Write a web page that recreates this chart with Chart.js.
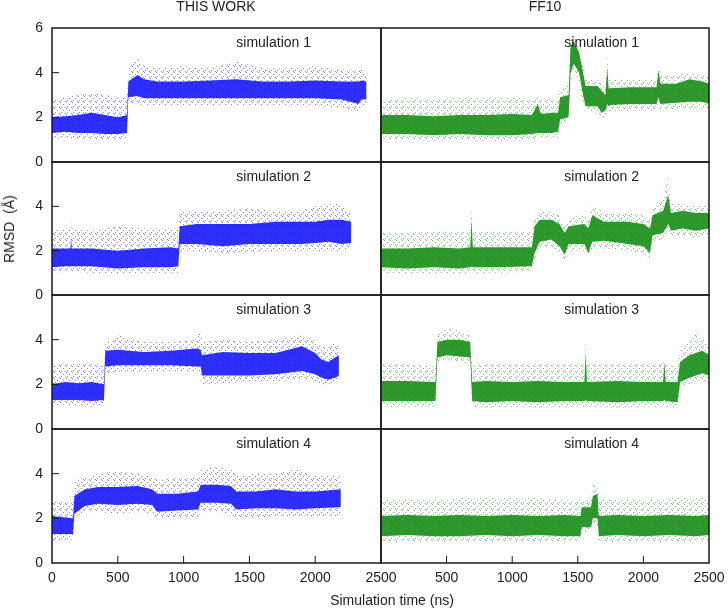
<!DOCTYPE html>
<html>
<head>
<meta charset="utf-8">
<script src="https://cdn.jsdelivr.net/npm/chart.js@4.4.1/dist/chart.umd.min.js"></script>
<style>
    body { margin: 0; background: #ffffff; font-family: 'Liberation Sans', Arial, Helvetica, sans-serif; color: #222; }
    #quadro { position: relative; width: 728px; height: 609px; overflow: hidden; }
    #quadro canvas { position: absolute; left: 0; top: 0; }
    .texto { position: absolute; font-size: 14px; line-height: 14px; white-space: nowrap; transform: translate(-50%, -50%); }
</style>
</head>
<body>
<div id="quadro">
    <canvas id="painel0" width="728" height="609"></canvas>
    <canvas id="painel1" width="728" height="609"></canvas>
    <canvas id="painel2" width="728" height="609"></canvas>
    <canvas id="painel3" width="728" height="609"></canvas>
    <canvas id="painel4" width="728" height="609"></canvas>
    <canvas id="painel5" width="728" height="609"></canvas>
    <canvas id="painel6" width="728" height="609"></canvas>
    <canvas id="painel7" width="728" height="609"></canvas>
    <div class="texto" style="left:216px; top:6px;">THIS WORK</div>
    <div class="texto" style="left:545px; top:6px;">FF10</div>
    <div class="texto" style="left:392px; top:600px;">Simulation time (ns)</div>
    <div class="texto" style="left:9px; top:229px; transform: translate(-50%, -50%) rotate(-90deg);">RMSD&nbsp;&nbsp;(Å)</div>
</div>
<script>
// ---- dados (RMSD em Å, tempo em ns) ----
// faixa densa = baixo..alto, pontos esparsos = min..max

// THIS WORK, simulation 1
const tempoA1 = [0, 100, 200, 300, 400, 500, 570, 580, 650, 700, 800, 1000, 1200, 1400, 1600, 1800, 2000, 2200, 2330, 2350, 2390];
const baixoA1 = [1.3, 1.35, 1.3, 1.3, 1.25, 1.25, 1.3, 2.9, 2.95, 2.85, 2.85, 2.85, 2.85, 2.85, 2.85, 2.85, 2.85, 2.8, 2.6, 2.8, 2.8];
const altoA1  = [2.0, 2.05, 2.1, 2.2, 2.1, 2.0, 2.1, 3.6, 3.9, 3.7, 3.6, 3.6, 3.65, 3.7, 3.6, 3.6, 3.65, 3.6, 3.6, 3.65, 3.6];
const minA1   = [1.1, 1.1, 1.05, 1.05, 1.0, 1.0, 1.1, 2.6, 2.6, 2.55, 2.55, 2.5, 2.55, 2.5, 2.55, 2.5, 2.5, 2.45, 2.2, 2.5, 2.6];
const maxA1   = [2.8, 2.9, 3.0, 3.1, 3.0, 2.9, 2.9, 4.2, 4.6, 4.3, 4.2, 4.3, 4.2, 4.5, 4.2, 4.2, 4.3, 4.1, 4.1, 4.2, 4.0];

// THIS WORK, simulation 2
const tempoA2 = [0, 100, 140, 145, 150, 300, 500, 700, 900, 960, 970, 1100, 1300, 1500, 1700, 1900, 2000, 2100, 2200, 2275];
const baixoA2 = [1.25, 1.3, 1.3, 1.3, 1.3, 1.3, 1.2, 1.25, 1.25, 1.3, 2.3, 2.3, 2.2, 2.3, 2.3, 2.3, 2.35, 2.4, 2.3, 2.35];
const altoA2  = [2.1, 2.1, 2.1, 2.6, 2.1, 2.1, 2.0, 2.1, 2.15, 2.1, 3.1, 3.2, 3.2, 3.2, 3.3, 3.3, 3.3, 3.4, 3.4, 3.3];
const minA2   = [1.0, 1.05, 1.05, 1.05, 1.05, 1.0, 0.95, 1.0, 1.0, 1.0, 2.0, 2.0, 1.9, 1.95, 2.0, 2.0, 2.0, 2.0, 2.0, 2.1];
const maxA2   = [2.9, 3.0, 3.0, 3.6, 3.0, 2.9, 3.1, 3.0, 3.0, 3.0, 3.8, 3.8, 3.8, 3.9, 3.8, 3.8, 4.0, 4.1, 4.1, 3.6];

// THIS WORK, simulation 3
const tempoA3 = [0, 100, 200, 300, 395, 405, 500, 700, 900, 1100, 1130, 1140, 1300, 1500, 1700, 1900, 2000, 2050, 2100, 2150, 2180];
const baixoA3 = [1.3, 1.3, 1.3, 1.25, 1.3, 2.8, 2.85, 2.85, 2.85, 2.8, 2.8, 2.4, 2.4, 2.4, 2.45, 2.6, 2.45, 2.3, 2.2, 2.3, 2.4];
const altoA3  = [2.0, 2.1, 2.05, 2.1, 2.0, 3.5, 3.55, 3.45, 3.5, 3.6, 3.55, 3.3, 3.45, 3.4, 3.4, 3.7, 3.4, 3.1, 3.0, 3.2, 3.3];
const minA3   = [1.05, 1.1, 1.05, 1.0, 1.1, 2.5, 2.55, 2.6, 2.6, 2.6, 2.5, 2.0, 2.05, 2.1, 2.1, 2.3, 2.1, 2.0, 2.0, 2.1, 2.3];
const maxA3   = [2.8, 3.0, 2.9, 3.0, 2.8, 3.8, 4.2, 3.9, 3.9, 4.0, 4.6, 3.9, 4.0, 3.9, 4.0, 4.2, 4.0, 3.7, 3.6, 3.9, 3.8];

// THIS WORK, simulation 4
const tempoA4 = [0, 160, 170, 250, 350, 500, 650, 760, 800, 950, 1110, 1130, 1250, 1360, 1400, 1550, 1700, 1850, 2000, 2195];
const baixoA4 = [1.3, 1.3, 2.2, 2.55, 2.65, 2.6, 2.65, 2.6, 2.3, 2.35, 2.4, 2.7, 2.7, 2.65, 2.4, 2.45, 2.45, 2.4, 2.45, 2.5];
const altoA4  = [2.1, 2.0, 3.0, 3.3, 3.4, 3.4, 3.45, 3.3, 3.1, 3.1, 3.2, 3.5, 3.5, 3.45, 3.2, 3.2, 3.3, 3.2, 3.2, 3.3];
const minA4   = [1.0, 1.05, 2.0, 2.3, 2.3, 2.2, 2.3, 2.2, 2.05, 2.0, 2.0, 2.3, 2.3, 2.2, 2.0, 2.0, 2.1, 2.1, 2.1, 2.1];
const maxA4   = [2.8, 2.7, 3.7, 3.8, 4.0, 4.1, 4.0, 3.9, 3.7, 3.8, 3.8, 4.2, 4.3, 4.2, 3.9, 4.0, 4.0, 4.2, 3.9, 3.9];

// FF10, simulation 1
const tempoB1 = [0, 200, 400, 600, 800, 1000, 1150, 1195, 1215, 1235, 1300, 1350, 1365, 1430, 1445, 1470, 1510, 1540, 1560, 1650, 1680, 1710, 1725, 1735, 1750, 1900, 2100, 2115, 2130, 2250, 2350, 2450, 2500];
const baixoB1 = [1.25, 1.25, 1.2, 1.25, 1.2, 1.2, 1.25, 1.3, 1.3, 1.3, 1.3, 1.35, 1.9, 2.0, 4.0, 4.4, 4.0, 3.0, 2.5, 2.5, 2.2, 2.3, 2.6, 2.5, 2.55, 2.6, 2.6, 2.9, 2.6, 2.65, 2.7, 2.7, 2.6];
const altoB1  = [2.1, 2.1, 2.05, 2.1, 2.1, 2.15, 2.1, 2.6, 2.2, 2.15, 2.2, 2.2, 2.9, 3.0, 5.2, 5.4, 4.9, 4.0, 3.4, 3.4, 3.2, 3.0, 4.2, 3.3, 3.3, 3.35, 3.35, 4.1, 3.5, 3.5, 3.7, 3.6, 3.5];
const minB1   = [1.0, 1.0, 0.95, 1.0, 0.95, 0.95, 1.0, 1.1, 1.1, 1.1, 1.1, 1.1, 1.7, 1.8, 3.8, 4.0, 3.6, 2.6, 2.3, 2.2, 2.0, 2.0, 2.3, 2.3, 2.3, 2.3, 2.3, 2.6, 2.3, 2.4, 2.4, 2.4, 2.4];
const maxB1   = [2.7, 2.9, 2.8, 2.9, 2.9, 2.9, 2.8, 2.9, 2.8, 2.8, 2.8, 2.8, 3.2, 3.5, 5.6, 5.7, 5.2, 4.3, 3.7, 3.7, 3.5, 3.3, 4.9, 3.7, 3.7, 3.7, 3.7, 4.5, 3.9, 3.9, 4.0, 3.9, 3.8];

// FF10, simulation 2
const tempoB2 = [0, 200, 400, 600, 680, 690, 700, 900, 1150, 1170, 1210, 1300, 1360, 1400, 1430, 1550, 1580, 1610, 1700, 1880, 2000, 2050, 2070, 2150, 2190, 2210, 2300, 2400, 2500];
const baixoB2 = [1.25, 1.2, 1.25, 1.2, 1.25, 1.3, 1.25, 1.25, 1.3, 1.9, 2.4, 2.5, 2.2, 1.8, 2.3, 2.3, 1.9, 2.4, 2.45, 2.3, 2.2, 1.9, 2.7, 2.8, 3.2, 2.9, 3.0, 2.9, 3.0];
const altoB2  = [2.1, 2.1, 2.15, 2.1, 2.15, 3.4, 2.15, 2.15, 2.15, 3.1, 3.4, 3.4, 3.2, 2.8, 3.1, 3.2, 3.0, 3.6, 3.3, 3.3, 3.2, 3.0, 3.6, 3.8, 4.5, 3.7, 3.8, 3.7, 3.7];
const minB2   = [1.0, 0.95, 1.0, 0.95, 1.0, 1.1, 1.0, 1.0, 1.05, 1.6, 2.1, 2.2, 1.9, 1.6, 2.0, 2.0, 1.7, 2.1, 2.1, 2.0, 1.9, 1.6, 2.4, 2.5, 2.9, 2.6, 2.7, 2.6, 2.7];
const maxB2   = [2.8, 2.8, 2.9, 2.9, 2.9, 4.0, 2.9, 2.9, 2.9, 3.4, 3.8, 3.8, 3.6, 3.2, 3.5, 3.6, 3.3, 4.1, 3.7, 3.7, 3.6, 3.4, 4.0, 4.3, 5.5, 4.1, 4.1, 4.0, 4.1];

// FF10, simulation 3
const tempoB3 = [0, 200, 415, 430, 500, 600, 680, 695, 800, 1000, 1200, 1400, 1550, 1560, 1570, 1800, 2000, 2150, 2160, 2170, 2260, 2280, 2350, 2400, 2450, 2500];
const baixoB3 = [1.25, 1.25, 1.25, 3.2, 3.3, 3.25, 3.2, 1.25, 1.2, 1.25, 1.2, 1.25, 1.25, 1.3, 1.25, 1.2, 1.25, 1.25, 1.3, 1.25, 1.2, 2.1, 2.3, 2.4, 2.5, 2.4];
const altoB3  = [2.15, 2.15, 2.1, 3.9, 4.0, 4.0, 3.9, 2.1, 2.15, 2.1, 2.15, 2.1, 2.1, 3.4, 2.1, 2.15, 2.1, 2.1, 3.0, 2.1, 2.1, 3.0, 3.3, 3.4, 3.5, 3.3];
const minB3   = [1.0, 1.0, 1.0, 3.0, 3.1, 3.0, 2.9, 1.0, 0.95, 1.0, 0.95, 1.0, 1.0, 1.1, 1.0, 0.95, 1.0, 1.0, 1.0, 1.0, 0.95, 1.9, 2.0, 2.1, 2.2, 2.1];
const maxB3   = [2.9, 2.9, 2.8, 4.2, 4.5, 4.4, 4.2, 2.8, 2.9, 2.9, 2.9, 2.9, 2.9, 3.9, 2.9, 2.9, 2.9, 2.9, 3.3, 2.9, 2.8, 3.5, 3.9, 4.3, 4.1, 3.8];

// FF10, simulation 4
const tempoB4 = [0, 200, 400, 600, 800, 1000, 1200, 1400, 1520, 1530, 1600, 1615, 1650, 1660, 1800, 2000, 2200, 2400, 2500];
const baixoB4 = [1.2, 1.25, 1.2, 1.2, 1.25, 1.2, 1.25, 1.2, 1.2, 1.6, 1.6, 2.0, 2.0, 1.2, 1.25, 1.2, 1.25, 1.2, 1.25];
const altoB4  = [2.1, 2.15, 2.1, 2.15, 2.1, 2.15, 2.1, 2.15, 2.1, 2.5, 2.5, 3.0, 3.1, 2.1, 2.15, 2.1, 2.15, 2.1, 2.15];
const minB4   = [0.95, 1.0, 0.95, 1.0, 0.95, 1.0, 0.95, 1.0, 1.0, 1.4, 1.4, 1.7, 1.7, 1.0, 0.95, 1.0, 0.95, 1.0, 1.0];
const maxB4   = [2.8, 2.9, 2.8, 2.9, 2.9, 2.9, 2.9, 2.8, 2.8, 2.8, 2.8, 3.5, 3.4, 2.8, 2.9, 2.8, 2.9, 2.9, 2.9];

const rotulos = ['simulation 1', 'simulation 2', 'simulation 3', 'simulation 4'];
const ticksX  = [0, 500, 1000, 1500, 2000, 2500];
const ticksY  = [0, 2, 4, 6];

// ---- layout (px) ----
const topoLinhas = [28, 162, 295, 429];
const baseGrafico = 563;
const colunas = [{ esq: 52, dir: 381 }, { esq: 381, dir: 709 }];
const LARGURA = 728, ALTURA = 609;
const FONTE = "'Liberation Sans', Arial, Helvetica, sans-serif";

Chart.defaults.font.family = FONTE;
Chart.defaults.font.size = 14;
Chart.defaults.color = '#222';

function criarPadrao(cor) {
    // pontinhos soltos para imitar os frames espalhados
    const c = document.createElement('canvas');
    c.width = 6; c.height = 6;
    const g = c.getContext('2d');
    g.fillStyle = cor;
    [[0, 0], [3, 2], [1, 4], [5, 5]].forEach(([x, y]) => g.fillRect(x, y, 1, 1));
    return g.createPattern(c, 'repeat');
}

const cores = [
    { denso: 'rgba(12, 12, 250, 0.85)', esparso: criarPadrao('rgba(12, 12, 250, 0.55)') },
    { denso: 'rgba(10, 135, 10, 0.85)', esparso: criarPadrao('rgba(10, 135, 10, 0.55)') }
];

const moldura = {
    id: 'moldura',
    afterDraw(chart, args, opts) {
        const { ctx, chartArea: a, scales } = chart;
        ctx.save();
        ctx.strokeStyle = '#1a1a1a';
        ctx.lineWidth = 1;
        // marcas para dentro (estilo gnuplot)
        if (scales.y.options.display) {
            ticksY.forEach(v => {
                const y = scales.y.getPixelForValue(v);
                if (y > a.top + 1 && y < a.bottom - 1) {
                    ctx.beginPath(); ctx.moveTo(a.left, y); ctx.lineTo(a.left + 7, y); ctx.stroke();
                }
            });
        }
        if (scales.x.options.display) {
            ticksX.forEach(v => {
                const x = scales.x.getPixelForValue(v);
                if (x > a.left + 1 && x < a.right - 1) {
                    ctx.beginPath(); ctx.moveTo(x, a.bottom); ctx.lineTo(x, a.bottom - 7); ctx.stroke();
                }
            });
        }
        ctx.lineWidth = 1.5;
        ctx.strokeRect(a.left, a.top, a.right - a.left, a.bottom - a.top);
        ctx.fillStyle = '#222';
        ctx.font = '14px ' + FONTE;
        ctx.textAlign = 'right';
        ctx.textBaseline = 'middle';
        ctx.fillText(opts.texto, a.right - 70, a.top + 15);
        ctx.restore();
    }
};

function criarPainel(id, col, lin, tempo, baixo, alto, min, max) {
    const cor = cores[col];
    const ultima = lin === 3;
    const temEixoY = col === 0;
    const topo = topoLinhas[lin];
    const base = ultima ? baseGrafico : topoLinhas[lin + 1];
    const pontos = ys => tempo.map((t, i) => ({ x: t, y: ys[i] }));
    const serie = (ys, fill, bg) => ({
        data: pontos(ys), fill: fill, backgroundColor: bg,
        borderWidth: 0, pointRadius: 0, tension: 0
    });

    new Chart(document.getElementById(id), {
        type: 'line',
        data: {
            datasets: [
                serie(alto, '+1', cor.denso),
                serie(baixo, false, 'transparent'),
                serie(max, '+1', cor.esparso),
                serie(min, false, 'transparent')
            ]
        },
        options: {
            responsive: false,
            animation: false,
            events: [],
            layout: {
                padding: {
                    left: temEixoY ? 0 : colunas[col].esq,
                    right: LARGURA - colunas[col].dir,
                    top: topo,
                    bottom: ultima ? ALTURA - baseGrafico - 24 : ALTURA - base
                }
            },
            plugins: {
                legend: { display: false },
                tooltip: { enabled: false },
                moldura: { texto: rotulos[lin] }
            },
            scales: {
                x: {
                    type: 'linear', min: 0, max: 2500,
                    display: ultima,
                    grid: { display: false, drawTicks: false },
                    border: { display: false },
                    afterBuildTicks: s => { s.ticks = ticksX.map(v => ({ value: v })); },
                    ticks: {
                        padding: 7, maxRotation: 0, autoSkip: false,
                        callback: v => (col === 1 && v === 0) ? '' : String(v)
                    },
                    afterFit: s => {
                        s.height = ultima ? 24 : 0;
                        // os rótulos das pontas podem sair da área, sem encolher o painel
                        s.paddingLeft = 0;
                        s.paddingRight = 0;
                    }
                },
                y: {
                    min: 0, max: 6,
                    display: temEixoY,
                    grid: { display: false, drawTicks: false },
                    border: { display: false },
                    afterBuildTicks: s => { s.ticks = ticksY.map(v => ({ value: v })); },
                    ticks: {
                        padding: 9,
                        callback: v => (v === 6 && lin > 0) ? '' : String(v)
                    },
                    afterFit: s => { s.width = temEixoY ? 52 : 0; }
                }
            }
        },
        plugins: [moldura]
    });
}

criarPainel('painel0', 0, 0, tempoA1, baixoA1, altoA1, minA1, maxA1);
criarPainel('painel1', 0, 1, tempoA2, baixoA2, altoA2, minA2, maxA2);
criarPainel('painel2', 0, 2, tempoA3, baixoA3, altoA3, minA3, maxA3);
criarPainel('painel3', 0, 3, tempoA4, baixoA4, altoA4, minA4, maxA4);
criarPainel('painel4', 1, 0, tempoB1, baixoB1, altoB1, minB1, maxB1);
criarPainel('painel5', 1, 1, tempoB2, baixoB2, altoB2, minB2, maxB2);
criarPainel('painel6', 1, 2, tempoB3, baixoB3, altoB3, minB3, maxB3);
criarPainel('painel7', 1, 3, tempoB4, baixoB4, altoB4, minB4, maxB4);
</script>
</body>
</html>
